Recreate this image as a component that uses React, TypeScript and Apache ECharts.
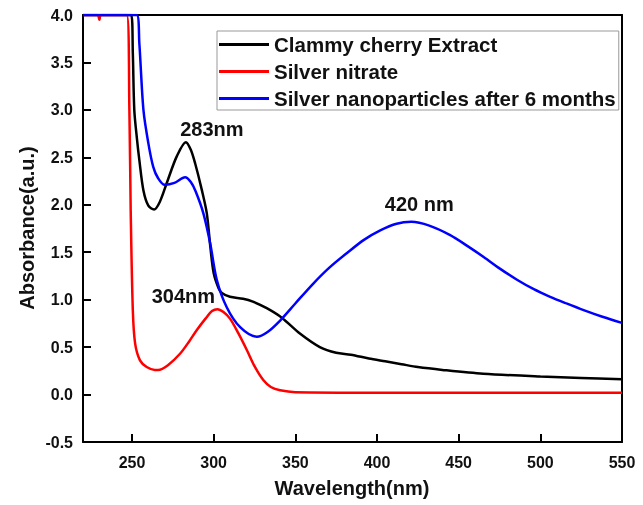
import React, { useEffect, useRef } from "react";
import * as echarts from "echarts";

const X_MIN = 220;
const X_MAX = 550;
const Y_MIN = -0.5;
const Y_MAX = 4.0;

const xTitle = "Wavelength(nm)";
const yTitle = "Absorbance(a.u.)";

const seriesNames = [
  "Clammy cherry Extract",
  "Silver nitrate",
  "Silver nanoparticles after 6 months",
];

const blackNm = [220, 249.5, 250.5, 251.4, 253, 254.5, 257, 260, 263.5, 267, 271.3, 277.4, 283, 286, 288.6, 292.7, 295.8, 298, 300, 303, 305, 310, 318, 324, 332.5, 341.7, 353, 365, 375, 384, 395, 405, 415, 425, 440, 465, 500, 525, 550];
const blackAbs = [4.0, 4.0, 3.6, 3.0, 2.7, 2.47, 2.15, 1.99, 1.95, 2.03, 2.23, 2.51, 2.66, 2.58, 2.44, 2.16, 1.91, 1.55, 1.28, 1.12, 1.07, 1.03, 1.01, 0.98, 0.91, 0.81, 0.64, 0.5, 0.44, 0.42, 0.38, 0.35, 0.32, 0.29, 0.26, 0.22, 0.19, 0.175, 0.16];

const redNm = [220, 229, 230, 231, 246.8, 248.4, 249.2, 250.5, 251.9, 254.9, 259, 264, 266, 272, 279.4, 285, 289.7, 295, 299, 302.3, 306, 310, 315, 320.3, 325, 330.5, 335, 340.7, 350, 400, 550];
const redAbs = [4.0, 4.0, 3.95, 4.0, 4.0, 3.0, 1.94, 0.89, 0.54, 0.36, 0.29, 0.26, 0.26, 0.31, 0.43, 0.56, 0.68, 0.8, 0.88, 0.9, 0.87, 0.8, 0.65, 0.47, 0.3, 0.15, 0.08, 0.045, 0.025, 0.02, 0.02];

const blueNm = [220, 252.9, 254.5, 257, 260, 263, 266, 270, 276, 282.5, 286, 289, 293.7, 297.8, 301.9, 308, 316.2, 326.4, 333, 340.7, 350, 361, 371, 381.5, 392, 402, 412, 421, 432, 444.8, 455, 465.3, 475, 485.7, 496, 506, 516, 526.5, 538, 550];
const blueAbs = [4.0, 4.0, 3.7, 3.0, 2.65, 2.4, 2.28, 2.21, 2.23, 2.29, 2.24, 2.14, 1.91, 1.6, 1.21, 0.92, 0.71, 0.61, 0.66, 0.78, 0.96, 1.17, 1.34, 1.49, 1.63, 1.73, 1.8, 1.82, 1.78, 1.68, 1.57, 1.45, 1.33, 1.21, 1.11, 1.03, 0.96, 0.89, 0.82, 0.755];

const peakLabels = [
  { text: "283nm", nm: 283, abs: 2.66 },
  { text: "304nm", nm: 302.3, abs: 0.9 },
  { text: "420 nm", nm: 421, abs: 1.82 },
];

const zip = (a: number[], b: number[]) => a.map((v, i) => [v, b[i]]);

const FONT = "'Liberation Sans', Arial, sans-serif";

export default function App() {
  const ref = useRef<HTMLDivElement>(null);
  useEffect(() => {
    if (!ref.current) return;
    const chart = echarts.init(ref.current, undefined, { renderer: "svg" });
    const mp = (idx: number, offset: number[]) => ({
      symbol: "circle",
      symbolSize: 1,
      itemStyle: { color: "rgba(0,0,0,0)" },
      label: {
        show: true,
        position: "inside",
        formatter: "{b}",
        offset,
        fontSize: 20,
        fontWeight: "bold",
        fontFamily: FONT,
        color: "#111",
      },
      data: [{ name: peakLabels[idx].text, coord: [peakLabels[idx].nm, peakLabels[idx].abs] }],
    });
    const colors = ["#000000", "#ff0000", "#0000ff"];
    const frameAxis = {
      type: "value",
      axisLine: { show: true, onZero: false, lineStyle: { color: "#000", width: 2 } },
      axisTick: { show: false },
      axisLabel: { show: false },
      splitLine: { show: false },
    };
    chart.setOption({
      animation: false,
      color: colors,
      grid: { left: 83, right: 21, top: 15, bottom: 63 },
      legend: {
        orient: "vertical",
        left: 217,
        top: 31,
        icon: "rect",
        itemWidth: 50,
        itemHeight: 3,
        itemGap: 6,
        padding: [3, 3, 1, 2],
        borderColor: "#999",
        borderWidth: 1,
        textStyle: { fontSize: 20.5, fontWeight: "bold", fontFamily: FONT, color: "#111", lineHeight: 20 },
        data: seriesNames,
      },
      graphic: [
        {
          type: "text",
          x: 352,
          y: 488,
          style: {
            text: xTitle,
            align: "center",
            verticalAlign: "middle",
            fontSize: 20,
            fontWeight: "bold",
            fontFamily: FONT,
            fill: "#111",
          },
        },
        {
          type: "text",
          x: 27,
          y: 228,
          rotation: Math.PI / 2,
          style: {
            text: yTitle,
            align: "center",
            verticalAlign: "middle",
            fontSize: 20,
            fontWeight: "bold",
            fontFamily: FONT,
            fill: "#111",
          },
        },
      ],
      xAxis: [
        {
          type: "value",
          position: "bottom",
          min: X_MIN,
          max: X_MAX,
          axisLine: { show: true, onZero: false, lineStyle: { color: "#000", width: 2 } },
          axisTick: { show: true, inside: true, length: 8, lineStyle: { color: "#000", width: 2 } },
          axisLabel: {
            show: true,
            showMinLabel: false,
            fontSize: 16,
            fontWeight: "bold",
            fontFamily: FONT,
            color: "#111",
            margin: 12,
          },
          splitLine: { show: false },
        },
        { ...frameAxis, position: "top", min: X_MIN, max: X_MAX },
      ],
      yAxis: [
        {
          type: "value",
          position: "left",
          min: Y_MIN,
          max: Y_MAX,
          interval: 0.5,
          axisLine: { show: true, onZero: false, lineStyle: { color: "#000", width: 2 } },
          axisTick: { show: true, inside: true, length: 8, lineStyle: { color: "#000", width: 2 } },
          axisLabel: {
            show: true,
            fontSize: 16,
            fontWeight: "bold",
            fontFamily: FONT,
            color: "#111",
            margin: 10,
            formatter: (v: number) => v.toFixed(1),
          },
          splitLine: { show: false },
        },
        { ...frameAxis, position: "right", min: Y_MIN, max: Y_MAX },
      ],
      series: [
        {
          name: seriesNames[0],
          type: "line",
          data: zip(blackNm, blackAbs),
          showSymbol: false,
          smooth: 0.3,
          lineStyle: { color: colors[0], width: 2.5 },
          itemStyle: { color: colors[0] },
          markPoint: mp(0, [26, -13]),
        },
        {
          name: seriesNames[1],
          type: "line",
          data: zip(redNm, redAbs),
          showSymbol: false,
          smooth: 0.3,
          lineStyle: { color: colors[1], width: 2.5 },
          itemStyle: { color: colors[1] },
          markPoint: mp(1, [-34, -13]),
        },
        {
          name: seriesNames[2],
          type: "line",
          data: zip(blueNm, blueAbs),
          showSymbol: false,
          smooth: 0.3,
          lineStyle: { color: colors[2], width: 2.5 },
          itemStyle: { color: colors[2] },
          markPoint: mp(2, [8, -18]),
        },
      ],
    });
    return () => chart.dispose();
  }, []);
  return <div ref={ref} style={{ position: "fixed", left: 0, top: 0, width: 643, height: 505 }} />;
}
